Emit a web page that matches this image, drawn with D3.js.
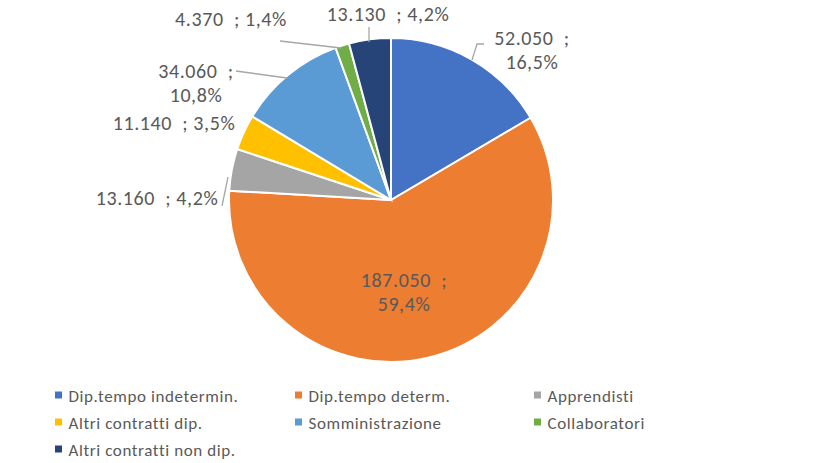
<!DOCTYPE html>
<html><head><meta charset="utf-8">
<script src="https://cdn.jsdelivr.net/npm/d3@7/dist/d3.min.js"></script>
<style>
body{margin:0;background:#fff;}
svg text{font-family:Carlito,"Liberation Sans Narrow","Open Sans",sans-serif;}
</style></head>
<body><svg id="c" width="821" height="463"></svg>
<script>
const categories=["Dip.tempo indetermin.","Dip.tempo determ.","Apprendisti","Altri contratti dip.","Somministrazione","Collaboratori","Altri contratti non dip."];
const values=[52050,187050,13160,11140,34060,4370,13130];
const percentLabels=["16,5%","59,4%","4,2%","3,5%","10,8%","1,4%","4,2%"];
const valueLabels=["52.050","187.050","13.160","11.140","34.060","4.370","13.130"];
const colors=["#4472C4","#ED7D31","#A5A5A5","#FFC000","#5B9BD5","#70AD47","#264478"];

const svg=d3.select("#c");
const cx=391,cy=200,R=162;
const pie=d3.pie().sort(null).value(d=>d);
const arcs=pie(values);
const arc=d3.arc().innerRadius(0).outerRadius(R);
const g=svg.append("g").attr("transform",`translate(${cx},${cy})`);
g.selectAll("path").data(arcs).enter().append("path")
 .attr("d",arc).attr("fill",(d,i)=>colors[i]).attr("stroke","#fff").attr("stroke-width",2);

const tc="#595959";
const lab=[
 {lines:[valueLabels[0]+"  ;",percentLabels[0]],x:532,y:45,leader:[[472,60],[477,44],[484,44]]},
 {lines:[valueLabels[1]+"  ;",percentLabels[1]],x:404,y:287,leader:null},
 {lines:[valueLabels[2]+"  ; "+percentLabels[2]],x:157,y:205,leader:[[222,206],[228,177]]},
 {lines:[valueLabels[3]+"  ; "+percentLabels[3]],x:174,y:130,leader:null},
 {lines:[valueLabels[4]+"  ;",percentLabels[4]],x:196,y:78,leader:[[236,71],[287,78]]},
 {lines:[valueLabels[5]+"  ; "+percentLabels[5]],x:231,y:26,leader:[[280,41],[341,48]]},
 {lines:[valueLabels[6]+"  ; "+percentLabels[6]],x:388,y:21,leader:[[369,27],[369,42]]}
];
lab.forEach(l=>{
 if(l.leader) svg.append("path").attr("d",d3.line()(l.leader)).attr("fill","none").attr("stroke","#A6A6A6").attr("stroke-width",1.3);
 l.lines.forEach((t,k)=>{
  svg.append("text").attr("x",l.x).attr("y",l.y+k*24).attr("text-anchor","middle")
   .attr("font-size",20).attr("letter-spacing",0.6).attr("fill",tc).style("white-space","pre").text(t);
 });
});

const colX=[55,295,534], rowY=[395,422,449];
categories.forEach((c,i)=>{
 const x=colX[i%3], y=rowY[Math.floor(i/3)];
 svg.append("rect").attr("x",x).attr("y",y-3.5).attr("width",7).attr("height",7).attr("fill",colors[i]);
 svg.append("text").attr("x",x+13.5).attr("y",y+7).attr("font-size",17).attr("letter-spacing",0.6).attr("fill",tc).text(c);
});
</script></body></html>
